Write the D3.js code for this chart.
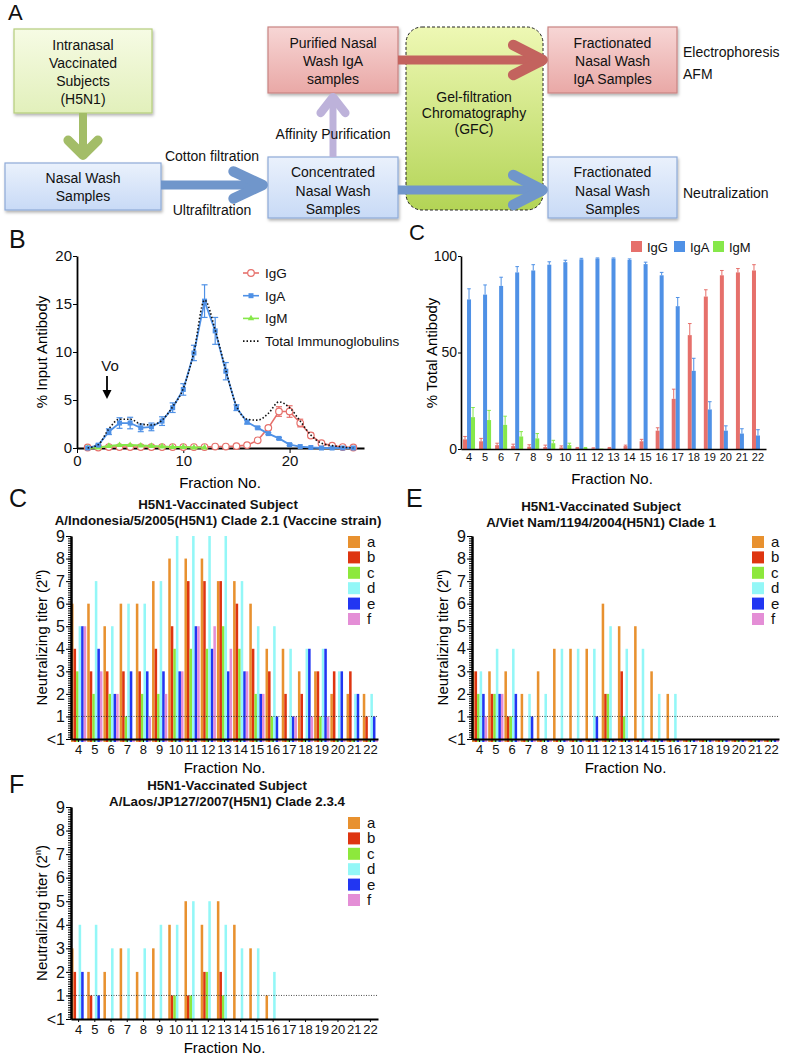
<!DOCTYPE html>
<html><head><meta charset="utf-8">
<script src="https://cdn.jsdelivr.net/npm/d3@7"></script>
<style>body{margin:0;background:#fff} svg{display:block} text{font-family:"Liberation Sans",Arial,Helvetica,sans-serif}</style>
</head><body><svg id="c" width="787" height="1055"></svg>
<script>
// ================= DATA =================
// Panel B : elution profile (% input antibody) by fraction
const fracB   = [1,2,3,4,5,6,7,8,9,10,11,12,13,14,15,16,17,18,19,20,21,22,23,24,25,26];
const igaB    = [0,0.3,1.7,2.6,2.6,2.1,2.2,2.8,4.2,6.1,9.9,15.3,12.2,8.0,4.2,2.7,2.1,1.5,1.0,0.35,0.15,0.05,0,0,0,0];
const igaErrB = [0,0.1,0.3,0.55,0.6,0.4,0.4,0.45,0.5,0.6,0.8,1.7,1.4,0.9,0.3,0.2,0.1,0.1,0.1,0.1,0,0,0,0,0,0];
const iggB    = [0.05,0.05,0.1,0.1,0.1,0.1,0.1,0.1,0.1,0.1,0.1,0.1,0.15,0.15,0.2,0.3,0.8,2.1,3.8,3.8,2.6,1.3,0.5,0.25,0.1,0.05];
const iggErrB = [0,0,0,0,0,0,0,0,0,0,0,0,0,0,0,0.05,0.1,0.2,0.5,0.6,0.4,0.25,0.1,0,0,0];
const fracBm  = [1,2,3,4,5,6,7,8,9,10,11,12];
const igmB    = [0,0.05,0.2,0.3,0.3,0.25,0.2,0.15,0.1,0.1,0.05,0.05];
const totalB  = [0,0.35,2.0,3.0,3.0,2.5,2.4,2.9,4.3,6.2,10.0,15.4,12.3,8.1,4.4,3.0,2.9,3.6,4.8,4.2,2.8,1.35,0.5,0.25,0.1,0];
const ticksBx = [0,10,20];
const ticksBy = [0,5,10,15,20];

// Panel C (top) : % total antibody
const fracC    = [4,5,6,7,8,9,10,11,12,13,14,15,16,17,18,19,20,21,22];
const iggC     = [5,4,2,1.5,1.2,1,0.8,0.5,0.3,0.5,1.5,4,9.5,26,59,79,90,91.5,92.5];
const iggErrC  = [1.5,1.5,1,1,1,1,0.8,0.3,0.3,0.3,0.5,1,1.5,5,6,3.5,2.5,2,3];
const igaC     = [77.5,80,84.5,91.5,92.5,95.5,96.8,98.3,98.7,98.7,98,95.8,90,74,40.5,20.5,9.5,8,7];
const igaErrC  = [5.5,5,4.5,3,3,1.5,1,0.5,0.3,0.3,0.5,1,1.5,4.5,6.5,4,2.5,2.5,3];
const igmC     = [16.5,15,12.5,6.5,5.5,3,2,0.5,0.2,0,0,0,0,0,0,0,0,0,0];
const igmErrC  = [5,5,4.5,2.5,2.5,1.5,1,0.3,0,0,0,0,0,0,0,0,0,0,0];
const ticksCy  = [0,50,100];

// Neutralization panels (titer 2^n, 0 = "<1")
const fracN    = [4,5,6,7,8,9,10,11,12,13,14,15,16,17,18,19,20,21,22];
const subjects = ["a","b","c","d","e","f"];
const titerLabels = ["<1","1","2","3","4","5","6","7","8","9"];
// Indonesia
const indoA = [6,6,5,6,6,7,8,8,8,7,7,6,4,4,3,3,2,2,2];
const indoB = [4,3,3,3,3,4,5,7,7,7,6,4,3,2,2,3,3,3,1];
const indoC = [3,2,2,1,2,2,4,4,4,5,4,2,1,0,0,1,0,0,0];
const indoD = [5,7,5,6,6,7,9,9,9,9,7,5,5,4,4,4,3,2,2];
const indoE = [5,4,2,3,3,3,3,5,4,3,3,2,1,1,4,4,3,2,1];
const indoF = [5,3,2,0,1,2,3,5,5,4,3,2,0,1,1,1,0,0,0];
// Viet Nam
const vietA = [3,3,3,2,3,4,4,4,6,5,5,3,2,0,0,0,0,0,0];
const vietB = [3,2,1,0,0,0,0,0,2,3,0,0,0,0,0,0,0,0,0];
const vietC = [2,2,1,0,0,0,0,0,2,1,0,0,0,0,0,0,0,0,0];
const vietD = [3,4,4,2,2,4,4,4,5,4,4,2,2,0,0,0,0,0,0];
const vietE = [2,2,2,1,0,0,0,1,0,0,0,0,0,0,0,0,0,0,0];
const vietF = [1,2,0,0,0,0,0,0,0,0,0,0,0,0,0,0,0,0,0];
// Laos
const laosA = [3,2,2,3,2,3,4,5,4,5,4,3,1,0,0,0,0,0,0];
const laosB = [2,1,0,0,0,0,1,1,2,2,0,0,0,0,0,0,0,0,0];
const laosC = [0,0,0,0,0,0,1,1,2,1,0,0,0,0,0,0,0,0,0];
const laosD = [4,4,3,3,3,4,4,5,5,4,3,3,2,0,0,0,0,0,0];
const laosE = [2,1,0,0,0,0,0,0,0,0,0,0,0,0,0,0,0,0,0];
const laosF = [0,0,0,0,0,0,0,0,0,0,0,0,0,0,0,0,0,0,0];

// ================= STYLE =================
const FONT = '"Liberation Sans",Arial,Helvetica,sans-serif';
const subjColors = ["#e8912f","#de3510","#8de83c","#93f7f7","#2236f2","#e48ed6"];
const cIgG = "#e6706b", cIgA = "#4f91e6", cIgM = "#86e84a";

const svg = d3.select("#c");
svg.append("rect").attr("width",787).attr("height",1055).attr("fill","#fff");
const defs = svg.append("defs");
function grad(id, c1, c2){
  const g = defs.append("linearGradient").attr("id",id).attr("x1",0).attr("y1",0).attr("x2",0).attr("y2",1);
  g.append("stop").attr("offset","0%").attr("stop-color",c1);
  g.append("stop").attr("offset","100%").attr("stop-color",c2);
}
grad("gGreen","#f6fbe4","#e2f0bb");
grad("gBlue","#eaf1fc","#c8daf6");
grad("gRed","#f7d6d5","#e9a8a6");
grad("gGfc","#eef8b4","#b3d456");
const f = defs.append("filter").attr("id","sh").attr("x","-10%").attr("y","-10%").attr("width","130%").attr("height","140%");
f.append("feDropShadow").attr("dx",1).attr("dy",2).attr("stdDeviation",1.5).attr("flood-color","#000").attr("flood-opacity",0.3);

function label(g, x, y, txt, opt={}){
  return g.append("text").attr("x",x).attr("y",y).text(txt)
    .attr("font-size",opt.size||14).attr("font-weight",opt.weight||"normal")
    .attr("text-anchor",opt.anchor||"start").attr("fill","#111");
}

// ================= PANEL A =================
const A = svg.append("g");
label(A, 8, 20, "A", {size:22});
function box(x,y,w,h,fill,stroke,lines,cy,lh){
  A.append("rect").attr("x",x).attr("y",y).attr("width",w).attr("height",h)
    .attr("fill",`url(#${fill})`).attr("stroke",stroke).attr("stroke-width",1.2).attr("filter","url(#sh)");
  lines.forEach((t,i)=> label(A, x+w/2, cy + i*lh, t, {anchor:"middle"}));
}
// GFC box
A.append("rect").attr("x",406).attr("y",27).attr("width",137).attr("height",183).attr("rx",16)
  .attr("fill","url(#gGfc)").attr("stroke","#222").attr("stroke-width",1).attr("stroke-dasharray","3,2");
["Gel-filtration","Chromatography","(GFC)"].forEach((t,i)=>label(A,474,102+i*16,t,{anchor:"middle"}));

box(14,29,138,84,"gGreen","#b5cd7c",["Intranasal","Vaccinated","Subjects","(H5N1)"],50,18);
box(5,163,156,47,"gBlue","#8eaad8",["Nasal Wash","Samples"],183,18);
box(268,27,130,66,"gRed","#c98482",["Purified Nasal","Wash IgA","samples"],48,18);
box(268,157,130,61,"gBlue","#8eaad8",["Concentrated","Nasal Wash","Samples"],177,18.5);
box(548,27,129,66,"gRed","#c98482",["Fractionated","Nasal Wash","IgA Samples"],48,18);
box(548,157,129,61,"gBlue","#8eaad8",["Fractionated","Nasal Wash","Samples"],177,18.5);

function arrow(x1,y1,x2,y2,color,w,half,L){
  const ang = Math.atan2(y2-y1,x2-x1);
  const h = half*Math.PI/180;
  const tx = x2 - Math.cos(ang)*w*0.6, ty = y2 - Math.sin(ang)*w*0.6;
  A.append("line").attr("x1",x1).attr("y1",y1).attr("x2",tx-Math.cos(ang)*2).attr("y2",ty-Math.sin(ang)*2)
    .attr("stroke",color).attr("stroke-width",w);
  const p1 = [tx - L*Math.cos(ang-h), ty - L*Math.sin(ang-h)];
  const p2 = [tx - L*Math.cos(ang+h), ty - L*Math.sin(ang+h)];
  A.append("path").attr("d",`M${p1}L${tx},${ty}L${p2}`).attr("fill","none")
    .attr("stroke",color).attr("stroke-width",w+1.5).attr("stroke-linecap","round").attr("stroke-linejoin","round");
}
arrow(83,113,83,160,"#a3bd68",8,45,21);
arrow(161,185,268,185,"#7096cb",9,25,32);
arrow(333,157,333,93,"#bdb2da",7,38,20);
arrow(398,60,548,60,"#c3635e",9,27,33);
arrow(398,190,548,190,"#7096cb",9,27,33);
label(A,212,161,"Cotton filtration",{anchor:"middle"});
label(A,212,215,"Ultrafiltration",{anchor:"middle"});
label(A,333,139,"Affinity Purification",{anchor:"middle"});
label(A,683,57,"Electrophoresis");
label(A,683,79,"AFM");
label(A,683,198,"Neutralization");

// ================= helpers =================
function styleAxis(g, size){
  g.selectAll("path,line").attr("stroke","#000");
  g.selectAll("text").attr("font-family",FONT).attr("font-size",size).attr("fill","#111");
}

// ================= PANEL B =================
const B = svg.append("g");
label(B, 9, 248, "B", {size:25});
const xB = d3.scaleLinear().domain([0,27]).range([77,364]);
const yB = d3.scaleLinear().domain([0,20]).range([448,256]);
const gxB = B.append("g").attr("transform","translate(0,448)").call(d3.axisBottom(xB).tickValues(ticksBx).tickSize(5).tickPadding(2).tickSizeOuter(0));
styleAxis(gxB,15); gxB.select(".domain").attr("stroke-width",1.8);
const gyB = B.append("g").attr("transform","translate(77,0)").call(d3.axisLeft(yB).tickValues(ticksBy).tickSize(4).tickPadding(1).tickSizeOuter(0));
styleAxis(gyB,15); gyB.select(".domain").attr("stroke-width",1.8);
B.append("text").attr("transform","translate(47,352) rotate(-90)").attr("text-anchor","middle").attr("font-size",15).text("% Input Antibody");
B.append("text").attr("x",220).attr("y",488).attr("text-anchor","middle").attr("font-size",15).text("Fraction No.");

function errBars(g, xs, ys, es, xScale, yScale, color, both){
  xs.forEach((xv,i)=>{
    if(!es[i]) return;
    const x = xScale(xv), y1 = yScale(ys[i]+es[i]), y0 = both ? yScale(Math.max(0,ys[i]-es[i])) : yScale(ys[i]);
    g.append("line").attr("x1",x).attr("x2",x).attr("y1",y1).attr("y2",y0).attr("stroke",color).attr("stroke-width",1.2);
    g.append("line").attr("x1",x-3).attr("x2",x+3).attr("y1",y1).attr("y2",y1).attr("stroke",color).attr("stroke-width",1.2);
    if(both) g.append("line").attr("x1",x-3).attr("x2",x+3).attr("y1",y0).attr("y2",y0).attr("stroke",color).attr("stroke-width",1.2);
  });
}
const lineB = d3.line().x(d=>xB(d[0])).y(d=>yB(d[1]));
// IgG
B.append("path").datum(fracB.map((x,i)=>[x,iggB[i]])).attr("d",lineB).attr("fill","none").attr("stroke",cIgG).attr("stroke-width",1.6);
errBars(B, fracB, iggB, iggErrB, xB, yB, cIgG, true);
B.selectAll(".gpt").data(fracB).enter().append("circle").attr("cx",d=>xB(d)).attr("cy",(d,i)=>yB(iggB[i])).attr("r",3.3)
  .attr("fill","#fff").attr("stroke",cIgG).attr("stroke-width",1.2);
// IgM
B.append("path").datum(fracBm.map((x,i)=>[x,igmB[i]])).attr("d",lineB).attr("fill","none").attr("stroke",cIgM).attr("stroke-width",2);
B.selectAll(".mpt").data(fracBm).enter().append("path").attr("d",d3.symbol(d3.symbolTriangle,18)())
  .attr("transform",(d,i)=>`translate(${xB(d)},${yB(igmB[i])})`).attr("fill",cIgM);
// IgA
B.append("path").datum(fracB.map((x,i)=>[x,igaB[i]])).attr("d",lineB).attr("fill","none").attr("stroke",cIgA).attr("stroke-width",1.8);
errBars(B, fracB, igaB, igaErrB, xB, yB, cIgA, true);
B.selectAll(".apt").data(fracB).enter().append("rect").attr("x",d=>xB(d)-2.5).attr("y",(d,i)=>yB(igaB[i])-2.5)
  .attr("width",5).attr("height",5).attr("fill",cIgA);
// Total
B.append("path").datum(fracB.map((x,i)=>[x,totalB[i]])).attr("d",lineB.curve(d3.curveMonotoneX)).attr("fill","none")
  .attr("stroke","#111").attr("stroke-width",1.6).attr("stroke-dasharray","1.5,2");
// legend
const legB = [["IgG",cIgG,"c"],["IgA",cIgA,"s"],["IgM",cIgM,"t"],["Total Immunoglobulins","#111","d"]];
legB.forEach((d,i)=>{
  const y = 273 + i*22.7;
  const ln = B.append("line").attr("x1",243).attr("x2",259).attr("y1",y).attr("y2",y).attr("stroke",d[1]).attr("stroke-width",1.6);
  if(d[2]==="d") ln.attr("stroke-dasharray","1.5,2");
  if(d[2]==="c") B.append("circle").attr("cx",251).attr("cy",y).attr("r",3.3).attr("fill","#fff").attr("stroke",d[1]).attr("stroke-width",1.2);
  if(d[2]==="s") B.append("rect").attr("x",248.5).attr("y",y-2.5).attr("width",5).attr("height",5).attr("fill",d[1]);
  if(d[2]==="t") B.append("path").attr("d",d3.symbol(d3.symbolTriangle,18)()).attr("transform",`translate(251,${y})`).attr("fill",d[1]);
  label(B, 265, y+5, d[0], {size:13.5});
});
// Vo
label(B, 110, 371, "Vo", {size:15, anchor:"middle"});
B.append("line").attr("x1",107).attr("x2",107).attr("y1",376).attr("y2",391).attr("stroke","#000").attr("stroke-width",1.8);
B.append("path").attr("d","M102.5,390L111.5,390L107,399Z").attr("fill","#000");

// ================= PANEL C (top) =================
const CT = svg.append("g");
label(CT, 409, 240, "C", {size:22});
const xC = d3.scaleBand().domain(fracC).range([461,766]);
const yC = d3.scaleLinear().domain([0,100]).range([449,256]);
const seriesC = [[iggC,iggErrC,cIgG,-6],[igaC,igaErrC,cIgA,-2],[igmC,igmErrC,cIgM,2]];
seriesC.forEach(([vals,errs,col,off])=>{
  fracC.forEach((fv,i)=>{
    const cx = xC(fv)+xC.bandwidth()/2;
    if(vals[i]>0) CT.append("rect").attr("x",cx+off).attr("y",yC(vals[i])).attr("width",4).attr("height",yC(0)-yC(vals[i])).attr("fill",col);
    if(errs[i]>0){
      const x = cx+off+2, y1 = yC(vals[i]+errs[i]);
      CT.append("line").attr("x1",x).attr("x2",x).attr("y1",y1).attr("y2",yC(vals[i])).attr("stroke",col).attr("stroke-width",1);
      CT.append("line").attr("x1",x-1.8).attr("x2",x+1.8).attr("y1",y1).attr("y2",y1).attr("stroke",col).attr("stroke-width",1);
    }
  });
});
const gxC = CT.append("g").attr("transform","translate(0,449)").call(d3.axisBottom(xC).tickSize(0).tickPadding(4).tickSizeOuter(0));
styleAxis(gxC,11); gxC.select(".domain").attr("stroke-width",1.6);
const gyC = CT.append("g").attr("transform","translate(461,0)").call(d3.axisLeft(yC).tickValues(ticksCy).tickSize(3).tickPadding(1).tickSizeOuter(0));
styleAxis(gyC,14); gyC.select(".domain").attr("stroke-width",1.6);
CT.append("text").attr("transform","translate(437,353) rotate(-90)").attr("text-anchor","middle").attr("font-size",15).text("% Total Antibody");
CT.append("text").attr("x",612).attr("y",484).attr("text-anchor","middle").attr("font-size",15).text("Fraction No.");
[["IgG",cIgG,631],["IgA",cIgA,674],["IgM",cIgM,713]].forEach(d=>{
  CT.append("rect").attr("x",d[2]).attr("y",241).attr("width",11).attr("height",11).attr("fill",d[1]);
  label(CT, d[2]+16, 252, d[0], {size:13});
});

// ================= NEUTRALIZATION PANELS =================
function neutPanel(cfg){
  const g = svg.append("g");
  label(g, cfg.lx, cfg.ly, cfg.letter, {size:25});
  label(g, cfg.tx, cfg.ty, cfg.title1, {size:13.3, weight:"bold", anchor:"middle"});
  label(g, cfg.tx, cfg.ty+16, cfg.title2, {size:13.3, weight:"bold", anchor:"middle"});
  const x = d3.scaleBand().domain(fracN).range([cfg.x0, cfg.x1]).paddingInner(0.06);
  const xs = d3.scaleBand().domain(subjects).range([0, x.bandwidth()]);
  const y = d3.scaleLinear().domain([0,9]).range([cfg.yb, cfg.yt]);
  const stub = cfg.stub ? 3 : 0;
  subjects.forEach((s,si)=>{
    const vals = cfg.series[si];
    fracN.forEach((fv,i)=>{
      const v = vals[i];
      if(v<=0 && !stub) return;
      g.append("rect").attr("x",x(fv)+xs(s)).attr("width",xs.bandwidth())
        .attr("y",y(v)).attr("height",y(0)-y(v)+stub).attr("fill",subjColors[si]);
    });
  });
  // dotted line at titer 1
  g.append("line").attr("x1",cfg.x0).attr("x2",cfg.x1).attr("y1",y(1)).attr("y2",y(1))
    .attr("stroke","#222").attr("stroke-width",0.8).attr("stroke-dasharray","1,1.5");
  const gx = g.append("g").attr("transform",`translate(0,${cfg.yb})`).call(d3.axisBottom(x).tickSize(3).tickPadding(3).tickSizeOuter(0));
  styleAxis(gx,13); gx.select(".domain").attr("stroke-width",1.8);
  const minor = g.append("g").attr("transform",`translate(${cfg.x0},0)`).call(d3.axisLeft(y).ticks(90).tickSize(3).tickFormat("").tickSizeOuter(0));
  styleAxis(minor,10); minor.selectAll("line").attr("stroke-width",1);
  const gy = g.append("g").attr("transform",`translate(${cfg.x0},0)`).call(d3.axisLeft(y).tickValues(d3.range(titerLabels.length)).tickFormat(d=>titerLabels[d]).tickSize(5).tickPadding(1).tickSizeOuter(0));
  styleAxis(gy,16); gy.select(".domain").attr("stroke-width",2.5);
  const yl = g.append("text").attr("transform",`translate(${cfg.x0-24},${(cfg.yb+cfg.yt)/2}) rotate(-90)`).attr("text-anchor","middle").attr("font-size",15);
  yl.append("tspan").text("Neutralizing titer (2");
  yl.append("tspan").attr("font-size",9).attr("dy",-6).text("n");
  yl.append("tspan").attr("dy",6).text(")");
  g.append("text").attr("x",(cfg.x0+cfg.x1)/2).attr("y",cfg.yb+34).attr("text-anchor","middle").attr("font-size",15).text("Fraction No.");
  subjects.forEach((s,si)=>{
    const yy = cfg.legY + si*15.4;
    g.append("rect").attr("x",cfg.legX).attr("y",yy-6).attr("width",12).attr("height",12).attr("fill",subjColors[si]);
    label(g, cfg.legX+19, yy+5, s, {size:15});
  });
}
neutPanel({letter:"C", lx:9, ly:507, tx:218, ty:509,
  title1:"H5N1-Vaccinated Subject", title2:"A/Indonesia/5/2005(H5N1) Clade 2.1 (Vaccine strain)",
  x0:71, x1:378, yt:536, yb:739, stub:true, legX:348, legY:542,
  series:[indoA,indoB,indoC,indoD,indoE,indoF]});
neutPanel({letter:"E", lx:406, ly:507, tx:601, ty:511,
  title1:"H5N1-Vaccinated Subject", title2:"A/Viet Nam/1194/2004(H5N1) Clade 1",
  x0:472, x1:779, yt:536, yb:739, stub:true, legX:752, legY:542,
  series:[vietA,vietB,vietC,vietD,vietE,vietF]});
neutPanel({letter:"F", lx:9, ly:793, tx:227, ty:790,
  title1:"H5N1-Vaccinated Subject", title2:"A/Laos/JP127/2007(H5N1) Clade 2.3.4",
  x0:71, x1:378, yt:807, yb:1019, stub:false, legX:348, legY:823,
  series:[laosA,laosB,laosC,laosD,laosE,laosF]});
</script></body></html>
